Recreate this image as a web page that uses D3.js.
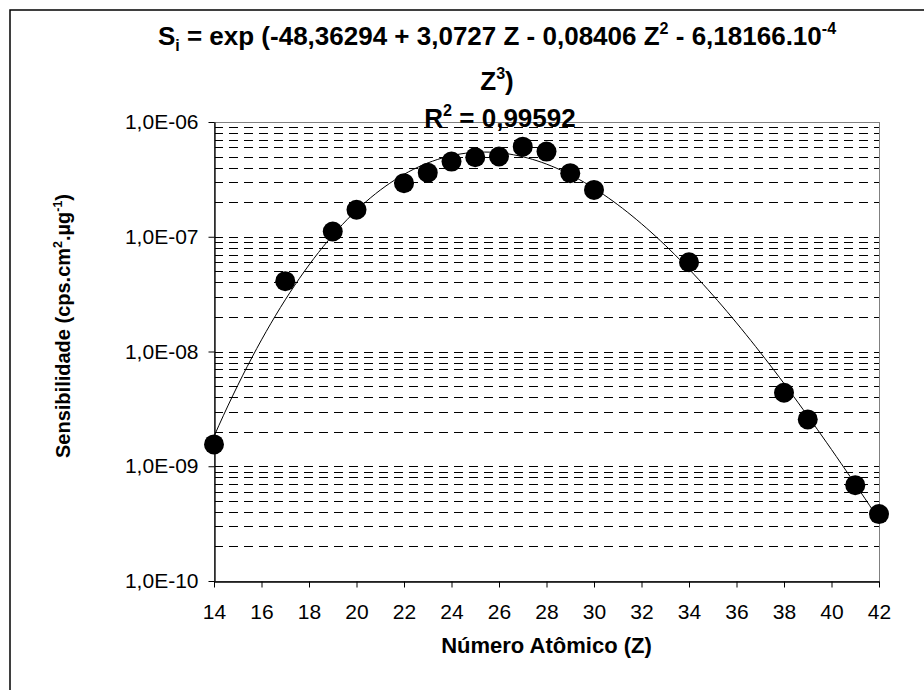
<!DOCTYPE html>
<html>
<head>
<meta charset="utf-8">
<script src="https://cdn.jsdelivr.net/npm/d3@7/dist/d3.min.js"></script>
<style>
  html, body { margin: 0; padding: 0; background: #fff; }
  svg { display: block; }
  text { font-family: "Liberation Sans", Arial, sans-serif; fill: #000; }
</style>
</head>
<body>
<script>
// ---- data ----
const atomicNumbers = [14, 17, 19, 20, 22, 23, 24, 25, 26, 27, 28, 29, 30, 34, 38, 39, 41, 42];
const sensitivities = [1.55e-9, 4.1e-8, 1.11e-7, 1.72e-7, 2.93e-7, 3.62e-7, 4.52e-7, 4.93e-7, 5.0e-7,
                       6.1e-7, 5.52e-7, 3.58e-7, 2.56e-7, 6.0e-8, 4.37e-9, 2.56e-9, 6.84e-10, 3.83e-10];
// trendline coefficients (ln S = c0 + c1 Z + c2 Z^2 + c3 Z^3), as drawn in the chart
const fitCoefficients = [-48.36294, 3.0727, -0.08406, 6.18166e-4];
const xTickValues = [14, 16, 18, 20, 22, 24, 26, 28, 30, 32, 34, 36, 38, 40, 42];
const yTickValues = [1e-10, 1e-9, 1e-8, 1e-7, 1e-6];
const yTickLabels = ["1,0E-10", "1,0E-09", "1,0E-08", "1,0E-07", "1,0E-06"];

const W = 924, H = 690;
const plot = { left: 214, right: 879, top: 122, bottom: 581 };

const svg = d3.select("body").append("svg").attr("width", W).attr("height", H);
svg.append("rect").attr("width", W).attr("height", H).attr("fill", "#fff");
// outer chart border (extends beyond the picture on right/bottom)
svg.append("rect").attr("x", 10).attr("y", 10).attr("width", 1000).attr("height", 1000)
  .attr("fill", "none").attr("stroke", "#000").attr("stroke-width", 1.5);

const x = d3.scaleLinear().domain([14, 42]).range([plot.left, plot.right]);
const y = d3.scaleLog().domain([1e-10, 1e-6]).range([plot.bottom, plot.top]);

// gridlines at 1..9 x 10^k
const gridVals = [];
for (let k = -10; k < -6; k++) {
  for (let m = 1; m <= 9; m++) {
    const v = m * Math.pow(10, k);
    if (v > 1.0001e-10) gridVals.push(v);
  }
}
gridVals.push(1e-6);
svg.append("g").selectAll("line").data(gridVals).join("line")
  .attr("x1", plot.left).attr("x2", plot.right)
  .attr("y1", d => Math.round(y(d)) + 0.5).attr("y2", d => Math.round(y(d)) + 0.5)
  .attr("stroke", "#000").attr("stroke-width", 1).attr("stroke-dasharray", "9,6");

// plot area border
svg.append("rect").attr("x", plot.left + 0.5).attr("y", plot.top + 0.5)
  .attr("width", plot.right - plot.left).attr("height", plot.bottom - plot.top)
  .attr("fill", "none").attr("stroke", "#808080").attr("stroke-width", 1);

// axes
const yAxis = d3.axisLeft(y).tickValues(yTickValues)
  .tickFormat((d) => yTickLabels[yTickValues.indexOf(d)])
  .tickSize(6).tickSizeOuter(0).tickPadding(10);
const gy = svg.append("g").attr("transform", `translate(${plot.left + 0.5},0)`).call(yAxis);
gy.selectAll("text").style("font-size", "21px").attr("font-family", null);
gy.selectAll("line,path").attr("stroke", "#000");

const xAxis = d3.axisBottom(x).tickValues(xTickValues).tickFormat(d3.format("d"))
  .tickSize(6).tickSizeOuter(0).tickPadding(17);
const gx = svg.append("g").attr("transform", `translate(0,${plot.bottom + 0.5})`).call(xAxis);
gx.selectAll("text").style("font-size", "21px").attr("font-family", null);
gx.selectAll("line,path").attr("stroke", "#000");
svg.selectAll(".domain").attr("stroke-width", 1.3);

// trendline
const curveZ = d3.range(14, 42.0001, 0.2);
const fit = z => Math.exp(fitCoefficients[0] + fitCoefficients[1] * z + fitCoefficients[2] * z * z + fitCoefficients[3] * z * z * z);
svg.append("path").datum(curveZ)
  .attr("d", d3.line().x(z => x(z)).y(z => y(fit(z))))
  .attr("fill", "none").attr("stroke", "#000").attr("stroke-width", 1);

// markers
svg.append("g").selectAll("circle").data(atomicNumbers).join("circle")
  .attr("cx", (d) => x(d)).attr("cy", (d, i) => y(sensitivities[i]))
  .attr("r", 10).attr("fill", "#000");

// rich text helper
function rich(sel, segs, size) {
  let shift = 0;
  segs.forEach(([t, kind]) => {
    let target = 0, fs = size;
    if (kind === "sup") { target = -size * 0.42; fs = size * 0.62; }
    if (kind === "sub") { target = size * 0.22; fs = size * 0.62; }
    sel.append("tspan").attr("dy", target - shift).style("font-size", fs + "px").text(t);
    shift = target;
  });
}

// title
const tFont = 26;
const t1 = svg.append("text").attr("x", 497).attr("y", 45).attr("text-anchor", "middle")
  .style("font-weight", "bold").style("font-size", tFont + "px");
rich(t1, [["S"], ["i", "sub"], [" = exp (-48,36294 + 3,0727 Z - 0,08406 Z"], ["2", "sup"],
          [" - 6,18166.10"], ["-4", "sup"]], tFont);
const t2 = svg.append("text").attr("x", 497).attr("y", 90).attr("text-anchor", "middle")
  .style("font-weight", "bold").style("font-size", tFont + "px");
rich(t2, [["Z"], ["3", "sup"], [")"]], tFont);
const t3 = svg.append("text").attr("x", 500).attr("y", 127).attr("text-anchor", "middle")
  .style("font-weight", "bold").style("font-size", tFont + "px");
rich(t3, [["R"], ["2", "sup"], [" = 0,99592"]], tFont);

// axis titles
svg.append("text").attr("x", (plot.left + plot.right) / 2).attr("y", 653)
  .attr("text-anchor", "middle").style("font-weight", "bold").style("font-size", "22px")
  .text("Número Atômico (Z)");
const yt = svg.append("text").attr("transform", "translate(70,326) rotate(-90)")
  .attr("text-anchor", "middle").style("font-weight", "bold").style("font-size", "20px");
rich(yt, [["Sensibilidade (cps.cm"], ["2", "sup"], [".µg"], ["-1", "sup"], [")"]], 20);
</script>
</body>
</html>
